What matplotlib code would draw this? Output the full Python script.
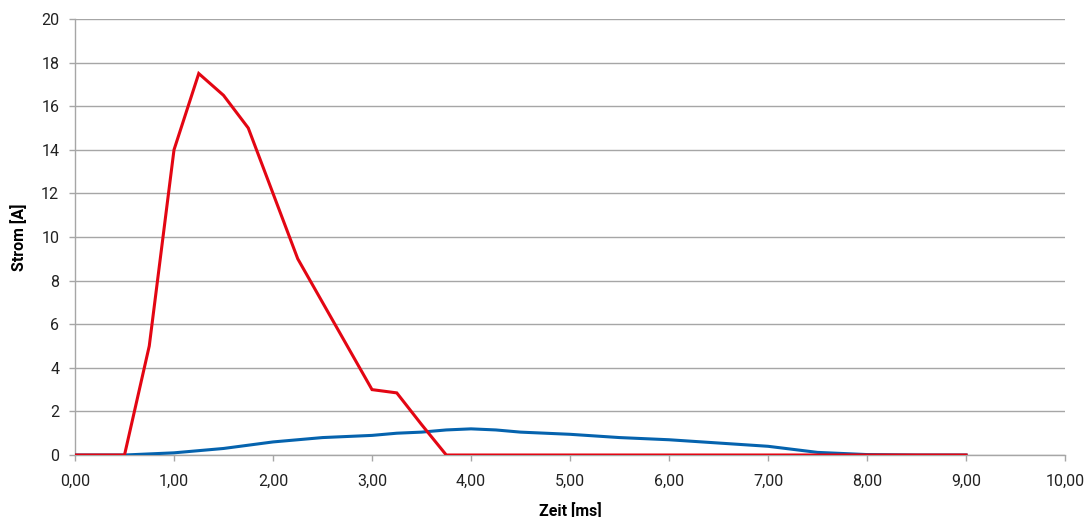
import matplotlib
matplotlib.use("Agg")
import matplotlib.pyplot as plt
from matplotlib.ticker import FuncFormatter, MultipleLocator

# Data
red_x = [0.0, 0.25, 0.5, 0.75, 1.0, 1.25, 1.5, 1.75, 2.0, 2.25, 2.5, 2.75, 3.0, 3.25, 3.5, 3.75,
         4.0, 4.5, 5.0, 5.5, 6.0, 6.5, 7.0, 7.5, 8.0, 8.5, 9.0]
red_y = [0, 0, 0, 5.0, 14.0, 17.5, 16.5, 15.0, 12.0, 9.0, 7.0, 5.0, 3.0, 2.85, 1.4, 0,
         0, 0, 0, 0, 0, 0, 0, 0, 0, 0, 0]
blue_x = [0.0, 0.25, 0.5, 0.75, 1.0, 1.25, 1.5, 1.75, 2.0, 2.25, 2.5, 2.75, 3.0, 3.25, 3.5, 3.75,
          4.0, 4.25, 4.5, 5.0, 5.5, 6.0, 6.5, 7.0, 7.5, 8.0, 8.5, 9.0]
blue_y = [0, 0, 0, 0.05, 0.1, 0.2, 0.3, 0.45, 0.6, 0.7, 0.8, 0.85, 0.9, 1.0, 1.05, 1.15,
          1.2, 1.15, 1.05, 0.95, 0.8, 0.7, 0.55, 0.4, 0.12, 0.02, 0, 0]

x_label = "Zeit [ms]"
y_label = "Strom [A]"

plt.rcParams['font.family'] = ['Roboto', 'DejaVu Sans']

fig = plt.figure(figsize=(10.87, 5.17), dpi=100)
ax = fig.add_axes([0.069, 0.1199, 0.9798 - 0.069, 0.9632 - 0.1199])

grid_c = '#a6a6a6'
ax.plot(blue_x, blue_y, color='#0563ae', lw=2.2, solid_joinstyle='round', zorder=3)
ax.plot(red_x, red_y, color='#e30613', lw=2.2, solid_joinstyle='miter', zorder=4)

ax.set_xlim(0, 10)
ax.set_ylim(0, 20)
ax.xaxis.set_major_locator(MultipleLocator(1))
ax.yaxis.set_major_locator(MultipleLocator(2))
ax.xaxis.set_major_formatter(FuncFormatter(lambda v, p: f"{v:.2f}".replace('.', ',')))
ax.yaxis.set_major_formatter(FuncFormatter(lambda v, p: f"{int(round(v))}"))

ax.grid(axis='y', color=grid_c, lw=1.0)
ax.set_axisbelow(True)
for s in ['top', 'right']:
    ax.spines[s].set_visible(False)
for s in ['left', 'bottom']:
    ax.spines[s].set_color(grid_c)
    ax.spines[s].set_linewidth(1.0)
ax.tick_params(axis='both', direction='out', length=4.3, color=grid_c, width=1.0,
               labelsize=11.5, labelcolor='#222222')
ax.tick_params(axis='x', pad=9.5)
ax.tick_params(axis='y', pad=7)

ax.set_xlabel(x_label, fontsize=11.5, fontweight='bold', labelpad=9)
ax.set_ylabel(y_label, fontsize=11.5, fontweight='bold', labelpad=10)

fig.savefig("out.png", dpi=100)
